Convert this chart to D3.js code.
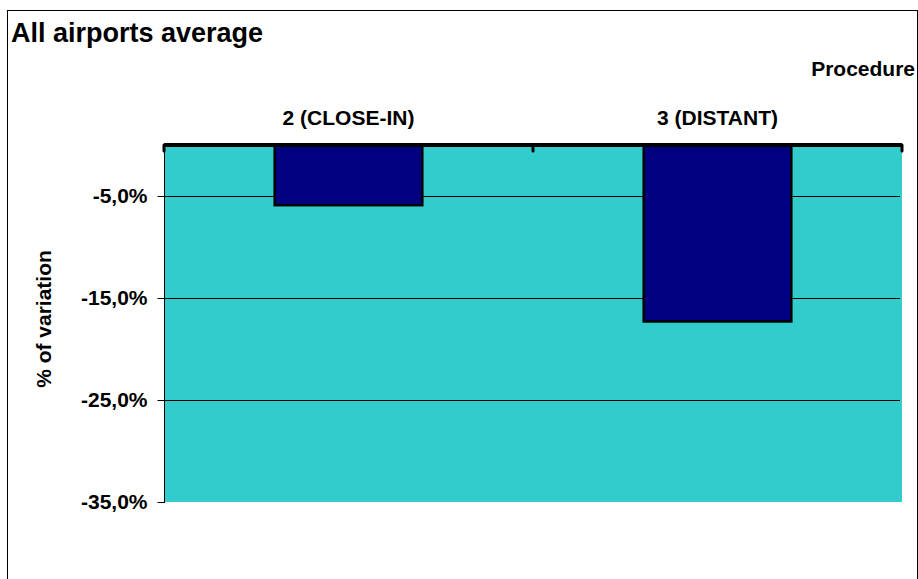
<!DOCTYPE html>
<html>
<head>
<meta charset="utf-8">
<script src="https://cdn.jsdelivr.net/npm/d3@7"></script>
<style>
  body { margin: 0; background: #fff; }
  text { font-family: Arial, "Liberation Sans", sans-serif; font-weight: bold; }
</style>
</head>
<body>
<script>
var width = 918, height = 579;

// data
var categories = ["2 (CLOSE-IN)", "3 (DISTANT)"];
var variation = [-5.9, -17.3];
var tickValues = [-5, -15, -25, -35];

var svg = d3.select("body").append("svg")
    .attr("width", width)
    .attr("height", height);

// chart border
svg.append("rect")
   .attr("x", 7.5).attr("y", 10.5)
   .attr("width", 910).attr("height", 600)
   .attr("fill", "none")
   .attr("stroke", "#000")
   .attr("stroke-width", 1);

var plot = {left: 164, top: 145, right: 902, bottom: 502};

var x = d3.scaleBand()
    .domain(categories)
    .range([plot.left, plot.right])
    .paddingInner(0)
    .paddingOuter(0);

var y = d3.scaleLinear()
    .domain([0, -35])
    .range([plot.top, plot.bottom]);

// plot background
svg.append("rect")
   .attr("x", plot.left).attr("y", plot.top)
   .attr("width", plot.right - plot.left)
   .attr("height", plot.bottom - plot.top)
   .attr("fill", "#33cccc");

// gridlines
svg.selectAll("line.grid")
   .data(tickValues.filter(function(d) { return d > -35; }))
   .enter()
   .append("line")
   .attr("class", "grid")
   .attr("x1", plot.left).attr("x2", plot.right - 2)
   .attr("y1", function(d) { return Math.round(y(d)) + 0.5; })
   .attr("y2", function(d) { return Math.round(y(d)) + 0.5; })
   .attr("stroke", "#000")
   .attr("stroke-width", 1);

// y axis
var yAxis = svg.append("g")
    .attr("transform", "translate(" + (plot.left + 0.5) + ",0)")
    .call(d3.axisLeft(y)
        .tickValues(tickValues)
        .tickSize(7)
        .tickPadding(10)
        .tickFormat(function(d) { return "-" + d3.format(".1f")(-d).replace(".", ",") + "%"; }));
yAxis.select(".domain").attr("d", "M0," + plot.top + "V" + (plot.bottom + 1)).attr("stroke", "#000");
yAxis.selectAll("text")
     .attr("font-size", 21)
     .attr("font-family", "Arial, 'Liberation Sans', sans-serif")
     .attr("font-weight", "bold")
     .attr("fill", "#000");

// bars
svg.selectAll("rect.bar")
   .data(variation)
   .enter()
   .append("rect")
   .attr("class", "bar")
   .attr("x", function(d, i) { return x(categories[i]) + x.bandwidth() * 0.3; })
   .attr("y", y(0))
   .attr("width", x.bandwidth() * 0.4)
   .attr("height", function(d) { return y(d) - y(0); })
   .attr("fill", "#000080")
   .attr("stroke", "#000")
   .attr("stroke-width", 2.5);

// top category axis (at zero)
svg.append("line")
   .attr("x1", plot.left).attr("x2", plot.right)
   .attr("y1", y(0)).attr("y2", y(0))
   .attr("stroke", "#000")
   .attr("stroke-width", 4);

var boundaries = [plot.left, x(categories[1]), plot.right];
svg.selectAll("line.xtick")
   .data(boundaries)
   .enter()
   .append("line")
   .attr("class", "xtick")
   .attr("x1", function(d) { return d; })
   .attr("x2", function(d) { return d; })
   .attr("y1", y(0))
   .attr("y2", y(0) + 6)
   .attr("stroke", "#000")
   .attr("stroke-width", 3)
   .attr("stroke-linecap", "round");

svg.selectAll("text.cat")
   .data(categories)
   .enter()
   .append("text")
   .attr("class", "cat")
   .attr("x", function(d) { return x(d) + x.bandwidth() / 2; })
   .attr("y", 125)
   .attr("text-anchor", "middle")
   .attr("font-size", 21)
   .text(function(d) { return d; });

// titles
svg.append("text")
   .attr("x", 11).attr("y", 42)
   .attr("font-size", 27)
   .text("All airports average");

svg.append("text")
   .attr("x", 915).attr("y", 76)
   .attr("text-anchor", "end")
   .attr("font-size", 21)
   .text("Procedure");

svg.append("text")
   .attr("transform", "translate(51,319) rotate(-90)")
   .attr("text-anchor", "middle")
   .attr("font-size", 21)
   .text("% of variation");
</script>
</body>
</html>
